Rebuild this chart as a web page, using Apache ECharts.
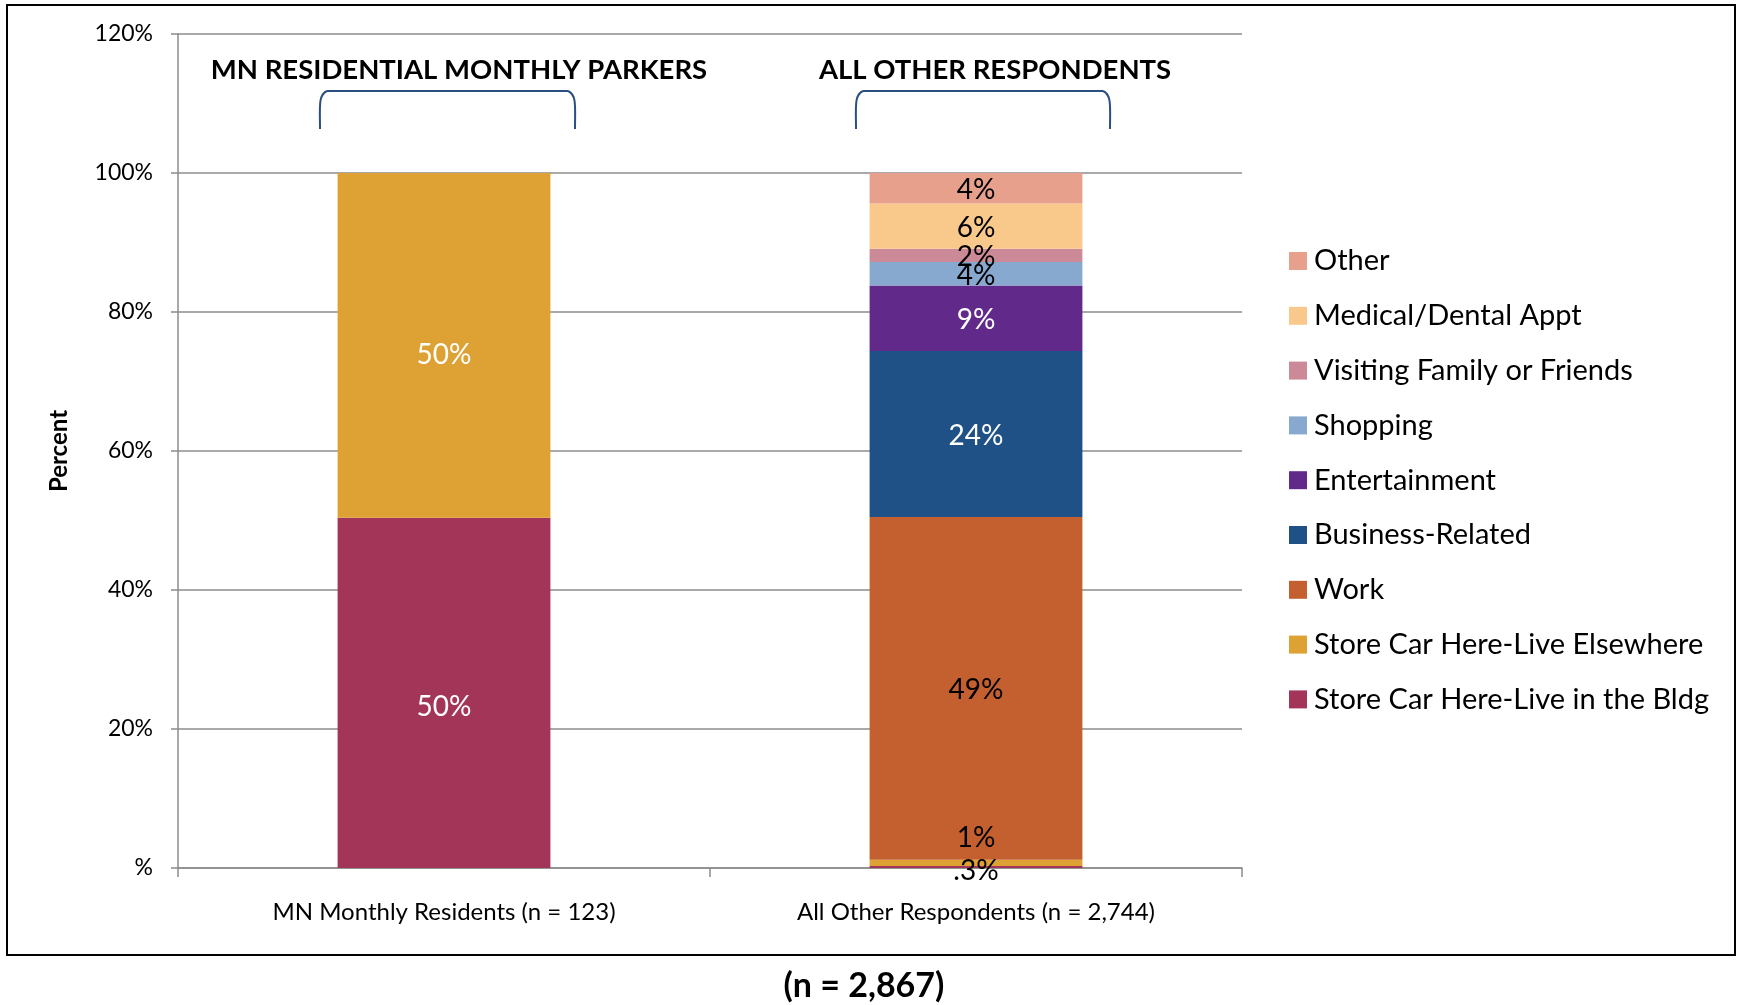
<!DOCTYPE html>
<html>
<head>
<meta charset="utf-8">
<title>Trip purpose</title>
<script src="https://cdn.jsdelivr.net/npm/echarts@6/dist/echarts.min.js"></script>
<style>
  html, body { margin: 0; padding: 0; background: #fff; }
  #chart { width: 1741px; height: 1005px; }
</style>
</head>
<body>
<div id="chart"></div>
<script>
// categories on the x axis
const categories = ['MN Monthly Residents (n = 123)', 'All Other Respondents (n = 2,744)']
// series, bottom of the stack first
const seriesNames = [
  'Store Car Here-Live in the Bldg',
  'Store Car Here-Live Elsewhere',
  'Work',
  'Business-Related',
  'Entertainment',
  'Shopping',
  'Visiting Family or Friends',
  'Medical/Dental Appt',
  'Other',
]
const residentValues = [50.4, 49.6, 0, 0, 0, 0, 0, 0, 0]
const otherValues = [0.3, 0.9, 49.3, 23.9, 9.4, 3.4, 1.9, 6.5, 4.4]
const residentLabels = ['50%', '50%', '', '', '', '', '', '', '']
const otherLabels = ['.3%', '1%', '49%', '24%', '9%', '4%', '2%', '6%', '4%']
const yTickLabels = ['%', '20%', '40%', '60%', '80%', '100%', '120%']
const groupHeadings = ['MN RESIDENTIAL MONTHLY PARKERS', 'ALL OTHER RESPONDENTS']
const totalNote = '(n = 2,867)'

const colors = ['#A33558', '#DEA133', '#C4602F', '#205186', '#612A8A', '#87A8CF', '#CC8A99', '#F9C98C', '#E6A08C']
const whiteOnResident = [true, true]
const whiteOnOther = [false, false, false, true, true, false, false, false, false]

const font = 'Lato, "Open Sans", sans-serif'
const gridColor = '#8C8C8C'
const braceColor = '#2B4F80'

const chart = echarts.init(document.getElementById('chart'), null, {renderer: 'canvas'})

function buildSeries() {
  return seriesNames.map((name, i) => ({
    name,
    type: 'bar',
    stack: 'total',
    barWidth: '40%',
    itemStyle: {color: colors[i]},
    emphasis: {disabled: true},
    label: {
      show: true,
      position: 'inside',
      fontFamily: font,
      fontSize: 28,
      formatter: p => p.dataIndex === 0 ? residentLabels[i] : otherLabels[i],
    },
    data: [
      {
        value: residentValues[i],
        label: {color: whiteOnResident[i] ? '#fff' : '#000', offset: [0, i === 0 ? 14 : 10]},
      },
      {
        value: otherValues[i],
        label: {
          color: whiteOnOther[i] ? '#fff' : '#000',
          offset: i === 1 ? [0, -25] : (i === 0 ? [0, 4] : [0, 2]),
        },
      },
    ],
  }))
}

// bracket drawn as two curved ends joined by a straight top
function bracket(x0, x1) {
  const yTop = 91
  const yBot = 129
  const style = {stroke: braceColor, lineWidth: 2, fill: null}
  return {
    type: 'group',
    silent: true,
    children: [
      {
        type: 'bezierCurve',
        shape: {x1: x0, y1: yBot, cpx1: x0, cpy1: yBot - 22, cpx2: x0 - 2, cpy2: yTop + 4, x2: x0 + 7, y2: yTop},
        style,
      },
      {
        type: 'line',
        shape: {x1: x0 + 7, y1: yTop, x2: x1 - 7, y2: yTop},
        style,
      },
      {
        type: 'bezierCurve',
        shape: {x1: x1, y1: yBot, cpx1: x1, cpy1: yBot - 22, cpx2: x1 + 2, cpy2: yTop + 4, x2: x1 - 7, y2: yTop},
        style,
      },
    ],
  }
}

function textItem(text, x, y, size) {
  return {
    type: 'text',
    x,
    y,
    silent: true,
    style: {
      text,
      fill: '#000',
      font: `bold ${size}px ${font}`,
      align: 'center',
      verticalAlign: 'middle',
    },
  }
}

const option = {
  animation: false,
  backgroundColor: '#fff',
  textStyle: {fontFamily: font},
  grid: {left: 178, right: 499, top: 34, bottom: 137, containLabel: false},
  legend: {
    orient: 'vertical',
    left: 1284,
    top: 241,
    itemWidth: 18,
    itemHeight: 18,
    itemGap: 24.8,
    icon: 'rect',
    data: seriesNames.slice().reverse(),
    textStyle: {fontFamily: font, fontSize: 29, color: '#000', lineHeight: 30, padding: [0, 0, 0, 2]},
    selectedMode: false,
  },
  xAxis: {
    type: 'category',
    data: categories,
    axisLine: {lineStyle: {color: gridColor, width: 1.5}},
    axisTick: {show: true, length: 9, lineStyle: {color: gridColor, width: 1.5}},
    axisLabel: {color: '#000', fontSize: 24, margin: 32, fontFamily: font},
  },
  yAxis: {
    type: 'value',
    min: 0,
    max: 120,
    interval: 20,
    name: 'Percent',
    nameLocation: 'middle',
    nameGap: 107,
    nameRotate: 90,
    nameTextStyle: {fontWeight: 'bold', fontSize: 24, color: '#000', fontFamily: font},
    axisLine: {show: true, lineStyle: {color: gridColor, width: 1.5}},
    axisTick: {show: true, length: 7, lineStyle: {color: gridColor, width: 1.5}},
    axisLabel: {
      color: '#000',
      fontSize: 23,
      margin: 25,
      fontFamily: font,
      formatter: v => yTickLabels[Math.round(v / 20)],
    },
    splitLine: {lineStyle: {color: gridColor, width: 1.5}},
  },
  series: buildSeries(),
  graphic: [
    {
      type: 'rect',
      silent: true,
      shape: {x: 7, y: 5, width: 1728, height: 950},
      style: {fill: null, stroke: '#000', lineWidth: 2},
      z: -1,
    },
    textItem(groupHeadings[0], 459, 70, 27.5),
    textItem(groupHeadings[1], 995, 70, 27.5),
    bracket(320, 575),
    bracket(856, 1110),
    textItem(totalNote, 864, 986, 34),
  ],
}

chart.setOption(option)
window.addEventListener('resize', () => chart.resize())
</script>
</body>
</html>
